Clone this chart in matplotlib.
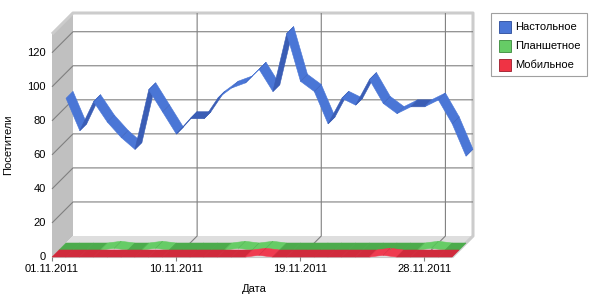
import matplotlib
matplotlib.use('Agg')
import matplotlib.pyplot as plt
from matplotlib.patches import Polygon, Rectangle
import numpy as np

plt.rcParams['font.family'] = ['Liberation Sans', 'DejaVu Sans']
plt.rcParams['font.size'] = 8

# data (Nov 2011, days 1..30)
days = np.arange(1, 31)
desktop = [85, 66, 83, 71, 62, 55, 90, 77, 64, 73, 73, 85, 91, 94, 102,
           89, 123, 95, 89, 70, 85, 81, 96, 82, 76, 80, 80, 84, 70, 51]
tablet = [0, 0, 0, 0, 1, 0, 0, 1, 0, 0, 0, 0, 0, 1, 0,
          1, 0, 0, 0, 0, 0, 0, 0, 0, 0, 0, 0, 1, 0, 0]
mobile = [0, 0, 0, 0, 0, 0, 0, 0, 0, 0, 0, 0, 0, 0, 0,
          1, 0, 0, 0, 0, 0, 0, 0, 0, 1, 0, 0, 0, 0, 0]
names = ['Настольное', 'Планшетное', 'Мобильное']
xticks = [1, 10, 19, 28]
xticklabels = ['01.11.2011', '10.11.2011', '19.11.2011', '28.11.2011']
yticks = [0, 20, 40, 60, 80, 100, 120]

YMAX = 131
W, H = 600, 300
x0px, x1px, y0px, y1px = 52, 452, 257, 34
kx = (days[-1] - days[0]) / (x1px - x0px)   # days per pixel
ky = YMAX / (y0px - y1px)                   # units per pixel
DEPTH = 21


def P(x, v, d):
    return (x + d * kx, v + d * ky)


fig = plt.figure(figsize=(W / 100, H / 100), dpi=100)
ax = fig.add_axes([x0px / W, (H - y0px) / H, (x1px - x0px) / W, (y0px - y1px) / H])
ax.set_xlim(days[0], days[-1])
ax.set_ylim(0, YMAX)
ax.axis('off')


def poly(pts, fc, ec='none', lw=0, z=1):
    ax.add_patch(Polygon(pts, closed=True, facecolor=fc, edgecolor=ec,
                         linewidth=lw, clip_on=False, zorder=z))


def line(pts, c, lw, z=2):
    xs, ys = zip(*pts)
    ax.plot(xs, ys, color=c, lw=lw, clip_on=False, zorder=z, solid_capstyle='butt')


xa, xb = days[0], days[-1]
# walls and floor
poly([P(xa, 0, DEPTH), P(xb, 0, DEPTH), P(xb, YMAX, DEPTH), P(xa, YMAX, DEPTH)], 'white')
poly([P(xa, 0, 0), P(xa, 0, DEPTH), P(xa, YMAX, DEPTH), P(xa, YMAX, 0)], '#c0c0c0')
poly([P(xa, 0, 0), P(xb, 0, 0), P(xb, 0, DEPTH), P(xa, 0, DEPTH)], '#dedede')

# wall borders
line([P(xa, YMAX, 0), P(xa, YMAX, DEPTH), P(xb, YMAX, DEPTH), P(xb, 0, DEPTH), P(xb, 0, 0)],
     '#cccccc', 2.2, z=1.5)
line([P(xa, 0, 0), P(xb, 0, 0)], '#c8c8c8', 0.8)

# gridlines
for v in yticks[1:]:
    line([P(xa, v, 0), P(xa, v, DEPTH), P(xb, v, DEPTH)], '#808080', 0.8)
for d in xticks[1:]:
    line([P(d, 0, 0), P(d, 0, DEPTH), P(d, YMAX, DEPTH)], '#808080', 0.8)

# ribbons, back to front
series = [
    (desktop, 14, '#4a76d6', '#3a5db5'),
    (tablet, 7, '#66cc66', '#4cab4c'),
    (mobile, 0, '#ef3b50', '#d02a3c'),
]
dx_px = 1 / kx
dy_px = 1 / ky
for vals, d1, light, dark in series:
    d2 = d1 + 7
    for i in range(len(days) - 1):
        xa_, xb_ = days[i], days[i + 1]
        va, vb = vals[i], vals[i + 1]
        rise = (vb - va) * dy_px
        if va == vb or rise > dx_px:
            c = dark
        else:
            c = light
        poly([P(xa_, va, d1), P(xb_, vb, d1), P(xb_, vb, d2), P(xa_, va, d2)],
             c, ec=c, lw=0.4, z=3)
        # thin joint line
        line([P(xb_, vb, d1), P(xb_, vb, d2)], dark, 0.3, z=3.1)

# ticks and labels
for d, lab in zip(xticks, xticklabels):
    line([(d, 0), (d, -4 * ky)], '#808080', 0.8)
    ax.text(d, -12.5 * ky, lab, ha='center', va='center', clip_on=False)
for v in yticks:
    ax.text(xa - 6 * kx, v, str(v), ha='right', va='center', clip_on=False)

fig.text(254 / W, (H - 289) / H, 'Дата', ha='center', va='center')
fig.text(8 / W, (H - 145) / H, 'Посетители', ha='center', va='center', rotation=90)

# legend
fig.add_artist(Rectangle((491 / W, (H - 76) / H), 96 / W, 63 / H, transform=fig.transFigure,
                         facecolor='white', edgecolor='#a0a0a0', linewidth=0.8))
leg_colors = ['#4a76d6', '#66cc66', '#ef3344']
leg_edges = ['#2a4a9a', '#3a8a3a', '#9a1a2a']
for k, (nm, c, e) in enumerate(zip(names, leg_colors, leg_edges)):
    yc = 27 + 19 * k
    fig.add_artist(Rectangle((499 / W, (H - yc - 6) / H), 12 / W, 12 / H, transform=fig.transFigure,
                             facecolor=c, edgecolor=e, linewidth=0.6))
    fig.text(515 / W, (H - yc) / H, nm, ha='left', va='center')

fig.savefig('out.png', dpi=100)
